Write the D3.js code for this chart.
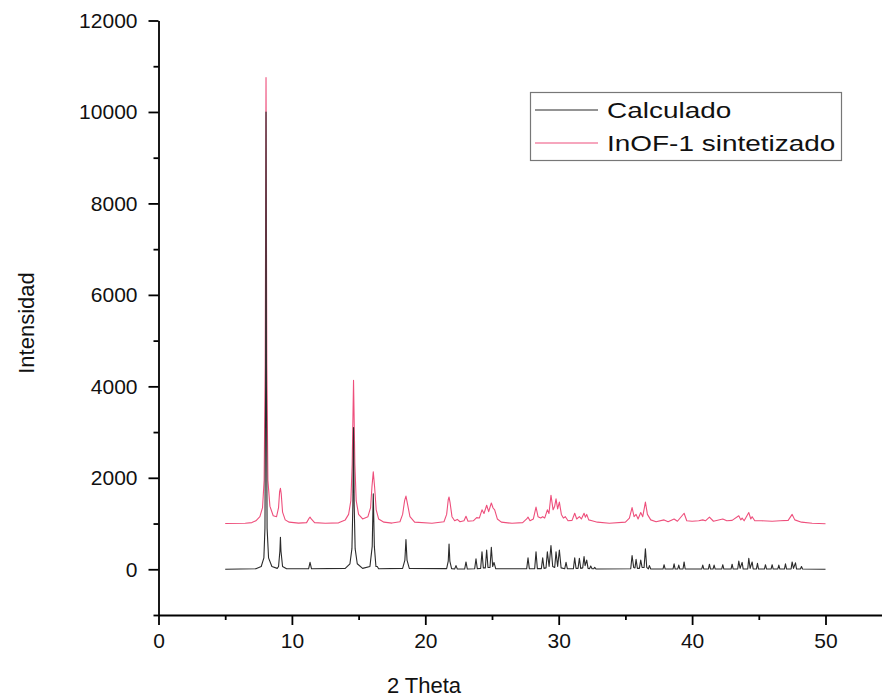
<!DOCTYPE html>
<html>
<head>
<meta charset="utf-8">
<script src="https://cdn.jsdelivr.net/npm/d3@7"></script>
<style>
  html, body { margin: 0; padding: 0; background: #fff; }
  svg { display: block; font-family: "Liberation Sans", Arial, sans-serif; }
</style>
</head>
<body>
<svg id="chart" width="882" height="700"></svg>
<script>
// Powder diffraction patterns: [2θ (deg), intensity]
const calculado = [
  [5.0,0],[7.3,10],[7.7,60],[7.9,250],[7.98,900],[8.03,4000],[8.06,10000],[8.09,4000],[8.14,900],[8.25,250],[8.5,60],[8.9,20],
  [9.0,60],[9.1,400],[9.14,700],[9.18,400],[9.3,60],[9.6,10],
  [11.25,10],[11.36,150],[11.47,10],
  [14.0,20],[14.35,120],[14.5,450],[14.57,1400],[14.62,3100],[14.67,1400],[14.74,450],[14.9,120],[15.3,20],
  [15.85,60],[16.02,500],[16.1,1650],[16.18,500],[16.3,60],[16.4,60],[16.5,10],
  [18.3,20],[18.47,200],[18.55,650],[18.63,200],[18.8,20],
  [21.6,15],[21.72,180],[21.78,550],[21.84,180],[21.97,15],
  [22.2,5],[22.3,80],[22.4,5],
  [22.95,5],[23.05,160],[23.15,5],
  [23.7,10],[23.8,230],[23.9,10],
  [24.15,20],[24.25,380],[24.35,30],[24.5,30],[24.6,420],[24.7,40],[24.85,40],[24.95,480],[25.05,60],[25.15,150],[25.28,10],
  [27.6,10],[27.7,250],[27.8,10],
  [28.2,15],[28.3,380],[28.4,15],
  [28.7,15],[28.8,250],[28.9,20],
  [29.05,30],[29.15,380],[29.28,60],[29.42,520],[29.55,60],[29.7,40],[29.8,380],[29.92,60],[30.05,420],[30.18,30],
  [30.45,10],[30.55,150],[30.65,10],
  [31.1,10],[31.2,250],[31.3,20],[31.45,20],[31.55,240],[31.65,20],[31.8,30],[31.9,280],[31.98,80],[32.1,200],[32.2,20],
  [32.32,15],[32.4,70],[32.5,10],[32.62,10],[32.7,40],[32.8,5],
  [35.4,10],[35.5,300],[35.62,40],[35.72,30],[35.8,220],[35.9,20],[36.05,20],[36.15,200],[36.25,40],[36.4,40],[36.5,450],
  [36.6,40],[36.72,10],[36.8,80],[36.9,5],
  [37.82,5],[37.9,100],[37.98,5],
  [38.57,5],[38.65,120],[38.73,5],[38.92,5],[39.0,90],[39.08,5],[39.32,5],[39.4,160],[39.48,5],
  [40.72,5],[40.8,90],[40.88,5],[41.22,5],[41.3,110],[41.38,5],[41.57,5],[41.65,90],[41.73,5],
  [42.22,5],[42.3,100],[42.38,5],[42.92,5],[43.0,110],[43.08,5],[43.42,5],[43.5,180],[43.6,20],[43.75,150],[43.83,5],
  [44.17,5],[44.25,240],[44.35,20],[44.5,160],[44.58,5],[44.82,5],[44.9,130],[44.98,5],
  [45.42,5],[45.5,100],[45.58,5],[45.92,5],[46.0,100],[46.08,5],[46.42,5],[46.5,90],[46.58,5],
  [46.92,5],[47.0,120],[47.08,5],[47.42,5],[47.5,160],[47.6,20],[47.75,140],[47.83,5],[48.12,5],[48.2,60],[48.28,5],
  [50.0,0]
];

const sintetizado = [
  [5.0,1000],[6.5,1005],[7.0,1020],[7.3,1060],[7.6,1150],[7.8,1350],[7.92,1950],[8.0,4500],[8.06,10750],[8.12,4500],[8.2,1950],
  [8.35,1380],[8.6,1170],[8.85,1150],[9.0,1350],[9.08,1700],[9.14,1770],[9.2,1650],[9.3,1250],[9.5,1080],[9.8,1030],[10.5,1010],
  [11.1,1020],[11.3,1120],[11.36,1140],[11.45,1100],[11.7,1020],[12.5,1005],[13.5,1015],[14.0,1080],[14.25,1200],
  [14.42,1500],[14.52,2300],[14.62,4130],[14.72,2300],[14.82,1500],[15.0,1200],[15.3,1100],[15.7,1150],[15.9,1350],
  [16.0,1800],[16.1,2130],[16.2,1800],[16.32,1300],[16.5,1100],[16.9,1030],[17.5,1010],
  [18.1,1040],[18.3,1200],[18.45,1500],[18.55,1600],[18.65,1450],[18.85,1150],[19.2,1030],[20.5,1005],
  [21.4,1040],[21.6,1200],[21.72,1520],[21.78,1580],[21.86,1450],[22.0,1150],[22.2,1060],[22.4,1090],[22.6,1040],
  [22.9,1060],[23.05,1160],[23.2,1050],[23.6,1060],[23.85,1130],[24.05,1120],[24.25,1300],[24.4,1220],[24.6,1400],
  [24.75,1260],[24.95,1450],[25.08,1340],[25.2,1300],[25.4,1100],[25.7,1030],[26.5,1005],
  [27.3,1020],[27.6,1100],[27.7,1140],[27.85,1060],[28.1,1100],[28.3,1360],[28.45,1150],[28.65,1120],[28.8,1150],
  [28.95,1120],[29.15,1300],[29.27,1220],[29.42,1620],[29.58,1300],[29.7,1380],[29.8,1540],[29.92,1320],[30.05,1470],
  [30.2,1200],[30.35,1120],[30.5,1150],[30.7,1060],[31.0,1070],[31.2,1225],[31.35,1100],[31.55,1150],[31.7,1100],
  [31.9,1225],[32.0,1140],[32.1,1200],[32.25,1080],[32.5,1060],[32.9,1030],[33.8,1005],
  [35.0,1030],[35.3,1120],[35.5,1350],[35.65,1150],[35.8,1200],[35.95,1100],[36.15,1240],[36.3,1150],[36.5,1470],
  [36.65,1200],[36.9,1080],[37.3,1040],[37.9,1080],[38.2,1040],[38.65,1100],[38.9,1050],[39.4,1225],[39.6,1060],
  [40.0,1050],[40.5,1060],[40.8,1080],[41.0,1060],[41.3,1140],[41.6,1050],[42.3,1100],[42.6,1060],[43.0,1070],
  [43.5,1170],[43.65,1080],[43.75,1120],[43.9,1060],[44.25,1240],[44.4,1100],[44.5,1150],[44.7,1060],[45.2,1060],
  [46.0,1050],[46.6,1060],[47.2,1070],[47.5,1200],[47.7,1080],[48.2,1030],[49.0,1005],[50.0,995]
];

const xMajorTicks = [0, 10, 20, 30, 40, 50];
const xMinorTicks = [5, 15, 25, 35, 45, 55];
const yMajorTicks = [0, 2000, 4000, 6000, 8000, 10000, 12000];
const yMinorTicks = [-1000, 1000, 3000, 5000, 7000, 9000, 11000];

const seriesNames = ["Calculado", "InOF-1 sintetizado"];
const seriesColors = ["#2b2b2b", "#ee4f7c"];

const svg = d3.select("#chart");

const x = d3.scaleLinear().domain([0, 55]).range([158.5, 158.5 + 55 * 13.34]);
const y = d3.scaleLinear().domain([-1000, 12000]).range([615, 20.5]);

const fontSize = 21;

// Y axis
svg.append("g").attr("transform", `translate(${x(0)},0)`)
  .call(d3.axisLeft(y).tickValues(yMajorTicks).tickSize(10).tickSizeOuter(0).tickPadding(11).tickFormat(d3.format("d")));
svg.append("g").attr("transform", `translate(${x(0)},0)`)
  .call(d3.axisLeft(y).tickValues(yMinorTicks).tickSize(5).tickSizeOuter(0).tickFormat(""))
  .call(g => g.select(".domain").remove());

// X axis
svg.append("g").attr("transform", `translate(0,${y(-1000)})`)
  .call(d3.axisBottom(x).tickValues(xMajorTicks).tickSize(10).tickSizeOuter(0).tickPadding(8));
svg.append("g").attr("transform", `translate(0,${y(-1000)})`)
  .call(d3.axisBottom(x).tickValues(xMinorTicks).tickSize(5).tickSizeOuter(0).tickFormat(""))
  .call(g => g.select(".domain").remove());

svg.selectAll(".domain, .tick line").attr("stroke", "#000").attr("stroke-width", 1.8);
svg.selectAll(".tick text").attr("font-size", fontSize).attr("fill", "#111")
  .attr("font-family", "'Liberation Sans', Arial, sans-serif");

// Axis titles
svg.append("text").attr("x", 424).attr("y", 693).attr("text-anchor", "middle")
  .attr("font-size", 22).attr("fill", "#111").text("2 Theta");
svg.append("text").attr("transform", "translate(34,323) rotate(-90)").attr("text-anchor", "middle")
  .attr("font-size", 22).attr("fill", "#111").text("Intensidad");

// Patterns
const line = d3.line().x(d => x(d[0])).y(d => y(d[1]));
svg.append("path").datum(sintetizado).attr("d", line)
  .attr("fill", "none").attr("stroke", seriesColors[1]).attr("stroke-width", 1.1).attr("stroke-linejoin", "round");
svg.append("path").datum(calculado).attr("d", line)
  .attr("fill", "none").attr("stroke", seriesColors[0]).attr("stroke-width", 1.1).attr("stroke-linejoin", "round");

// Legend (labels set in a wide face)
const legend = svg.append("g");
legend.append("rect").attr("x", 530.5).attr("y", 92.5).attr("width", 311).attr("height", 68)
  .attr("fill", "none").attr("stroke", "#777").attr("stroke-width", 1.2);
seriesNames.forEach((name, i) => {
  const cy = 110 + i * 33;
  legend.append("line").attr("x1", 535).attr("x2", 598).attr("y1", cy).attr("y2", cy)
    .attr("stroke", seriesColors[i]).attr("stroke-width", 1.1);
  const t = legend.append("text").attr("x", 607).attr("y", cy + 8).attr("font-size", 22).attr("fill", "#111").text(name);
  const w = t.node().getComputedTextLength();
  t.attr("textLength", w * 1.27).attr("lengthAdjust", "spacingAndGlyphs");
});
</script>
</body>
</html>
